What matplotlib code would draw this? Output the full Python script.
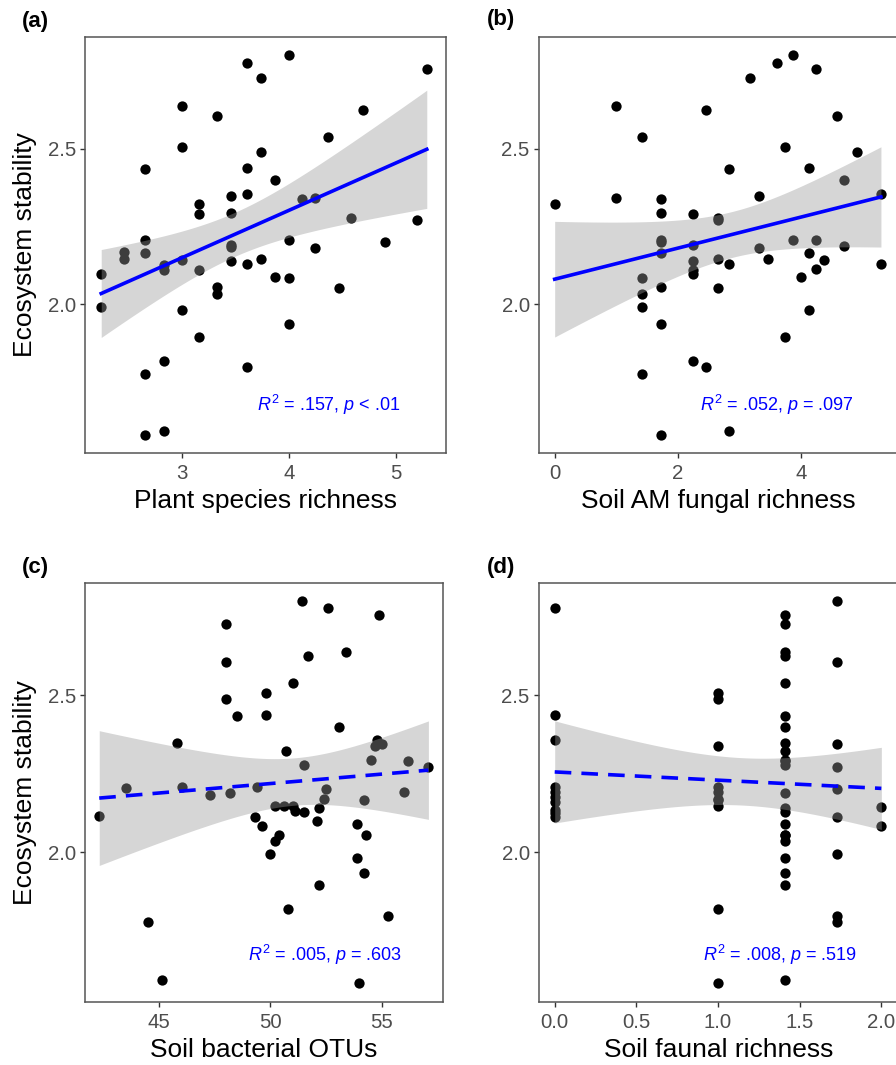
import numpy as np
import matplotlib
matplotlib.use('Agg')
import matplotlib.pyplot as plt

plt.rcParams['font.family'] = ['Liberation Sans', 'DejaVu Sans']
plt.rcParams['mathtext.fontset'] = 'custom'
plt.rcParams['mathtext.rm'] = 'Liberation Sans'
plt.rcParams['mathtext.it'] = 'Liberation Sans:italic'

# (a) plant species richness vs ecosystem stability
plant_x = [2.24, 2.24, 2.45, 2.45, 2.65, 2.65, 2.65, 2.65, 2.65, 2.83, 2.83, 2.83, 2.83,
           3.00, 3.00, 3.00, 3.00, 3.16, 3.16, 3.16, 3.16, 3.32, 3.32, 3.32,
           3.46, 3.46, 3.46, 3.46, 3.46, 3.61, 3.61, 3.61, 3.61, 3.61, 3.74, 3.74, 3.74,
           3.87, 3.87, 4.00, 4.00, 4.00, 4.00, 4.12, 4.24, 4.24, 4.36, 4.47, 4.58, 4.69,
           4.90, 5.20, 5.29]
plant_y = [2.098, 1.991, 2.168, 2.147, 2.434, 2.206, 2.166, 1.777, 1.582, 2.125, 2.111, 1.817, 1.593,
           2.636, 2.505, 2.143, 1.981, 2.321, 2.291, 2.111, 1.895, 2.605, 2.056, 2.034,
           2.348, 2.293, 2.190, 2.184, 2.138, 2.775, 2.436, 2.355, 2.128, 1.799, 2.727, 2.489, 2.147,
           2.398, 2.088, 2.799, 2.208, 2.085, 1.936, 2.337, 2.342, 2.182, 2.537, 2.054, 2.277, 2.625,
           2.200, 2.272, 2.755]

# (b) soil AM fungal richness
amf_x = [0.00, 1.00, 1.00, 1.41, 1.41, 1.41, 1.41, 1.41, 1.73, 1.73, 1.73, 1.73, 1.73, 1.73, 1.73, 1.73,
         2.24, 2.24, 2.24, 2.24, 2.24, 2.24, 2.45, 2.45, 2.65, 2.65, 2.65, 2.65, 2.83, 2.83, 2.83,
         3.16, 3.32, 3.32, 3.46, 3.61, 3.74, 3.74, 3.87, 3.87, 4.00, 4.12, 4.12, 4.12,
         4.24, 4.24, 4.24, 4.36, 4.58, 4.69, 4.69, 4.90, 5.29, 5.29]
amf_y = [2.321, 2.636, 2.342, 2.537, 2.085, 2.034, 1.991, 1.777, 2.337, 2.293, 2.208, 2.200, 2.166, 2.056, 1.936, 1.582,
         2.291, 2.190, 2.138, 2.111, 2.098, 1.817, 2.625, 1.799, 2.277, 2.272, 2.147, 2.054, 2.434, 2.128, 1.593,
         2.727, 2.348, 2.182, 2.147, 2.775, 2.505, 1.895, 2.799, 2.206, 2.088, 2.436, 2.166, 1.981,
         2.755, 2.208, 2.115, 2.143, 2.605, 2.398, 2.186, 2.489, 2.355, 2.128]

# (c) soil bacterial OTUs
otu_x = [42.3, 43.5, 44.5, 45.1, 45.8, 46.0, 47.3, 48.0, 48.0, 48.0, 48.2, 48.5, 49.3, 49.4, 49.6,
         49.8, 49.8, 50.0, 50.2, 50.2, 50.4, 50.6, 50.7, 50.8, 51.0, 51.0, 51.1, 51.4, 51.5, 51.5,
         51.7, 52.1, 52.2, 52.2, 52.4, 52.5, 52.6, 53.1, 53.4, 53.9, 53.9, 54.0, 54.2, 54.2, 54.3,
         54.5, 54.7, 54.8, 55.0, 54.9, 55.3, 56.0, 56.2, 57.1]
otu_y = [2.116, 2.206, 1.779, 1.593, 2.349, 2.207, 2.183, 2.727, 2.606, 2.489, 2.188, 2.435, 2.113, 2.208, 2.085,
         2.508, 2.436, 1.993, 2.035, 2.148, 2.055, 2.146, 2.324, 1.818, 2.539, 2.149, 2.130, 2.800, 2.278, 2.128,
         2.627, 2.100, 2.140, 1.897, 2.171, 2.203, 2.777, 2.400, 2.638, 2.089, 1.983, 1.583, 2.168, 1.935, 2.055,
         2.294, 2.339, 2.358, 2.344, 2.756, 1.798, 2.191, 2.292, 2.271]

# (d) soil faunal richness
fauna_x = [0.00] * 10 + [1.00] * 10 + [1.41] * 23 + [1.73] * 9 + [2.00] * 2
fauna_y = [2.777, 2.436, 2.358, 2.209, 2.193, 2.177, 2.161, 2.135, 2.124, 2.114,
           2.508, 2.489, 2.339, 2.208, 2.191, 2.171, 2.168, 2.149, 1.818, 1.583,
           2.756, 2.727, 2.638, 2.627, 2.539, 2.435, 2.400, 2.349, 2.324, 2.294, 2.292, 2.278,
           2.188, 2.140, 2.128, 2.089, 2.055, 2.055, 2.035, 1.983, 1.935, 1.897, 1.593,
           2.800, 2.606, 2.344, 2.271, 2.203, 2.113, 1.993, 1.798, 1.779,
           2.143, 2.085]

stats_labels = [r'$R^2$ = .157, $p$ < .01', r'$R^2$ = .052, $p$ = .097',
                r'$R^2$ = .005, $p$ = .603', r'$R^2$ = .008, $p$ = .519']
x_labels = ['Plant species richness', 'Soil AM fungal richness',
            'Soil bacterial OTUs', 'Soil faunal richness']
panel_tags = ['(a)', '(b)', '(c)', '(d)']

W, H = 896, 1065


def rect(l, t, r, b):
    return [l / W, 1 - b / H, (r - l) / W, (b - t) / H]


def smooth(ax, x, y, ls):
    x = np.asarray(x, float)
    y = np.asarray(y, float)
    n = len(x)
    b, a = np.polyfit(x, y, 1)
    xs = np.linspace(x.min(), x.max(), 80)
    fit = a + b * xs
    resid = y - (a + b * x)
    s = np.sqrt(np.sum(resid ** 2) / (n - 2))
    se = s * np.sqrt(1 / n + (xs - x.mean()) ** 2 / np.sum((x - x.mean()) ** 2))
    t = 2.007
    ax.fill_between(xs, fit - t * se, fit + t * se, color='#999999', alpha=0.4,
                    lw=0, zorder=3)
    line, = ax.plot(xs, fit, color='#0000FF', lw=2.6, zorder=4)
    if ls == 'dashed':
        line.set_dashes((4.6, 2.8))


fig = plt.figure(figsize=(W / 100, H / 100), dpi=100)

panels = [
    (plant_x, plant_y, rect(85, 37, 446, 453), (2.088, 5.47), [3, 4, 5], ['3', '4', '5'], 'solid'),
    (amf_x, amf_y, rect(538.7, 37, 898, 453), (-0.259, 5.567), [0, 2, 4], ['0', '2', '4'], 'solid'),
    (otu_x, otu_y, rect(85, 583, 443.3, 1002), (41.66, 57.77), [45, 50, 55], ['45', '50', '55'], 'dashed'),
    (fauna_x, fauna_y, rect(538.7, 583, 898, 1002), (-0.098, 2.102), [0, 0.5, 1.0, 1.5, 2.0],
     ['0.0', '0.5', '1.0', '1.5', '2.0'], 'dashed'),
]
text_pos = [(0.676, 0.115), (0.663, 0.115), (0.671, 0.113), (0.673, 0.113)]
tag_pos = [(22, 22), (487, 20), (22, 567), (487, 567)]

for i, (x, y, r, xl, xt, xtl, ls) in enumerate(panels):
    ax = fig.add_axes(r)
    ax.scatter(x, y, s=55, color='black', lw=0, zorder=2)
    smooth(ax, x, y, ls)
    ax.set_xlim(*xl)
    ax.set_ylim(1.523, 2.858)
    ax.set_xticks(xt)
    ax.set_xticklabels(xtl)
    ax.set_yticks([2.0, 2.5])
    ax.set_yticklabels(['2.0', '2.5'])
    for sp in ax.spines.values():
        sp.set_color('#555555')
        sp.set_linewidth(1.1)
    ax.tick_params(axis='both', length=3.5, width=1.0, color='#333333',
                   labelcolor='#4D4D4D', labelsize=14.7, pad=3)
    ax.tick_params(axis='x', pad=4.5)
    ax.set_xlabel(x_labels[i], fontsize=19, color='black', labelpad=4)
    if i % 2 == 0:
        ax.set_ylabel('Ecosystem stability', fontsize=19, color='black', labelpad=8)
    ax.text(text_pos[i][0], text_pos[i][1], stats_labels[i], transform=ax.transAxes,
            ha='center', va='center', color='#0000FF', fontsize=13)
    fig.text(tag_pos[i][0] / W, 1 - tag_pos[i][1] / H, panel_tags[i], fontsize=16,
             fontweight='bold', ha='left', va='center')

fig.savefig('out.png', dpi=100)
